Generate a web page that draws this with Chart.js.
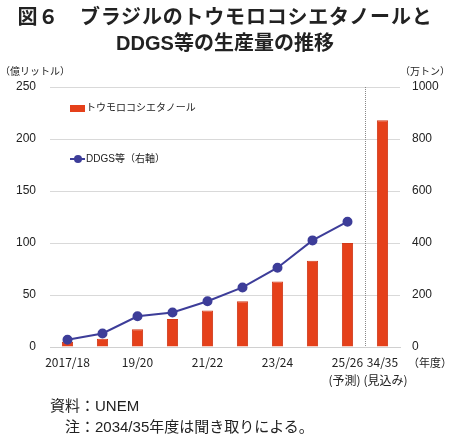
<!DOCTYPE html>
<html><head><meta charset="utf-8">
<script src="https://cdn.jsdelivr.net/npm/chart.js@4/dist/chart.umd.min.js"></script>
<style>
html,body{margin:0;padding:0;background:#fff;}
body{width:450px;height:434px;position:relative;overflow:hidden;font-family:"Liberation Sans","Noto Sans CJK JP",sans-serif;color:#222;}
#c{position:absolute;left:0;top:0;}
.t{position:absolute;white-space:nowrap;line-height:16px;}
.title{left:0;width:450px;text-align:center;font-family:"Liberation Sans","Noto Sans CJK JP",sans-serif;font-weight:bold;font-size:20px;line-height:24px;color:#222;}
.small{font-size:10px;color:#222;}
.note{font-size:15px;line-height:20px;color:#222;}
</style></head><body>
<canvas id="c" width="450" height="434"></canvas>
<div class="t title" style="top:5px;letter-spacing:0.8px;">図６　ブラジルのトウモロコシエタノールと</div>
<div class="t title" style="top:31px;">DDGS等の生産量の推移</div>
<div class="t small" style="left:0px;top:64px;">（億リットル）</div>
<div class="t small" style="left:400px;top:64px;">（万トン）</div>
<div class="t small" style="left:408px;top:355px;font-size:11px;">（年度）</div>
<div class="t small" style="left:70px;top:100px;"><span style="display:inline-block;width:15px;height:7px;background:#E5401A;vertical-align:middle;margin-right:1px;"></span>トウモロコシエタノール</div>
<div class="t small" style="left:70px;top:151px;"><span style="display:inline-block;position:relative;width:15px;height:10px;vertical-align:middle;margin-right:1px;"><span style="position:absolute;left:0;top:4px;width:15px;height:2px;background:#3D3D99;"></span><span style="position:absolute;left:4px;top:1px;width:8px;height:8px;border-radius:50%;background:#3D3D99;"></span></span>DDGS等（右軸）</div>
<div class="t note" style="left:50px;top:396px;">資料：UNEM</div>
<div class="t note" style="left:65px;top:417px;">注：2034/35年度は聞き取りによる。</div>
<script>
const categories = ['2017/18','18/19','19/20','20/21','21/22','22/23','23/24','24/25','25/26','34/35'];
const tickLabels = ['2017/18','','19/20','','21/22','','23/24','',['25/26','(予測)\u2002'],['34/35','\u2002(見込み)']];
const ethanol = [5, 8, 17, 27, 35, 44, 63, 83, 100, 218];
const ddgs = [28, 52, 118, 133, 176, 229, 305, 410, 482, null];
const leftTicks = [0, 50, 100, 150, 200, 250];
const rightTicks = [0, 200, 400, 600, 800, 1000];

const divider = {
  id:'divider',
  afterDatasetsDraw(chart){
    const x = chart.scales.x, a = chart.chartArea, c = chart.ctx;
    const px = (x.getPixelForValue(8) + x.getPixelForValue(9)) / 2;
    c.save();
    c.strokeStyle = '#888'; c.lineWidth = 1; c.setLineDash([1,1]);
    c.beginPath(); c.moveTo(Math.round(px)+0.5, a.top); c.lineTo(Math.round(px)+0.5, a.bottom); c.stroke();
    c.restore();
  }
};

const font = {family:'"Liberation Sans","Noto Sans CJK JP",sans-serif', size:12};
const xfont = {family:'"Noto Sans CJK JP",sans-serif', size:12, lineHeight:1.5};
new Chart(document.getElementById('c'), {
  data:{
    labels: categories,
    datasets:[
      {type:'line', label:'DDGS等（右軸）', data: ddgs, yAxisID:'y2', borderColor:'#3D3D99', backgroundColor:'#3D3D99', borderWidth:2, pointRadius:4, pointHoverRadius:4, tension:0, order:0},
      {type:'bar', label:'トウモロコシエタノール', data: ethanol, yAxisID:'y', backgroundColor:'#E5401A', borderColor:'#D03A1A', borderWidth:{top:1,left:1,right:1,bottom:0}, categoryPercentage:1, barPercentage:0.32, order:1}
    ]
  },
  options:{
    responsive:false, animation:false, devicePixelRatio:1,
    layout:{padding:{top:87, bottom:47, left:0, right:0}},
    plugins:{legend:{display:false}, tooltip:{enabled:false}},
    scales:{
      x:{
        grid:{display:false, drawTicks:false},
        border:{display:true, color:'#d0d0d0'},
        afterFit(s){ s.height = 40; },
        ticks:{autoSkip:false, maxRotation:0, padding:6, color:'#222', font:xfont,
          callback:(v,i)=>tickLabels[i]}
      },
      y:{
        position:'left', min:0, max:250,
        afterFit(s){ s.width = 50; },
        afterBuildTicks(s){ s.ticks = leftTicks.map(v=>({value:v})); },
        grid:{color:'#d9d9d9', drawTicks:false},
        border:{display:false},
        ticks:{padding:14, color:'#222', font, callback:v=>String(v)}
      },
      y2:{
        position:'right', min:0, max:1000,
        afterFit(s){ s.width = 50; },
        afterBuildTicks(s){ s.ticks = rightTicks.map(v=>({value:v})); },
        grid:{display:false, drawTicks:false},
        border:{display:false},
        ticks:{padding:12, color:'#222', font, callback:v=>String(v)}
      }
    }
  },
  plugins:[divider]
});
</script>
</body></html>
